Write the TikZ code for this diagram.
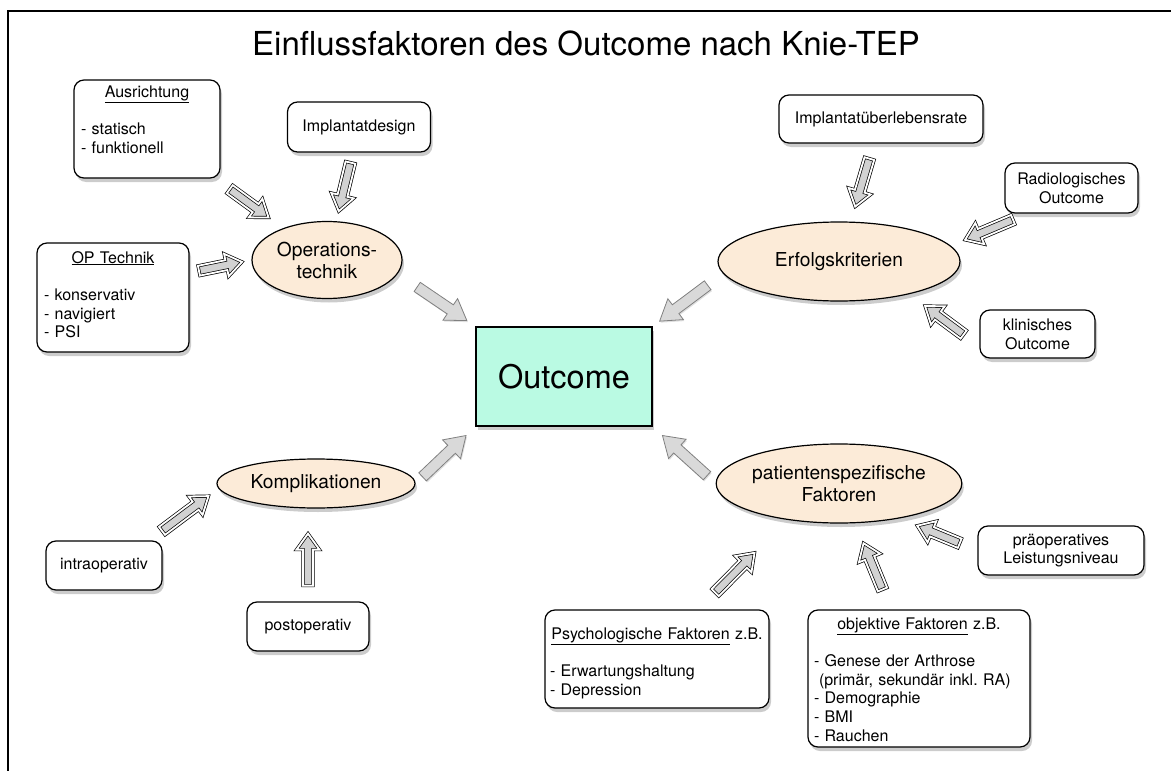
\documentclass[tikz,border=0pt]{standalone}
\usepackage{fontspec}
\setmainfont{TeX Gyre Heros}
\usetikzlibrary{shapes.geometric}
\usetikzlibrary{calc}
\usetikzlibrary{shadows}
\usepackage{xcolor}
\definecolor{pfirsich}{RGB}{252,235,216}
\definecolor{minze}{RGB}{186,250,227}
\frenchspacing

\begin{document}
\begin{tikzpicture}[x=1pt, y=1pt]
        % 定义样式:圆角方框、椭圆、中心方框、两种箭头
        \tikzstyle{bnode}=[rectangle, rounded corners=10pt, draw=black, line width=1.2pt, fill=white, drop shadow={shadow xshift=2pt, shadow yshift=-4pt, opacity=0.4}, font=\fontsize{16}{18.7}\selectfont, align=center, inner xsep=7pt, inner ysep=0pt]
        \tikzstyle{enode}=[ellipse, draw=black, line width=1.2pt, fill=pfirsich, drop shadow={shadow xshift=2pt, shadow yshift=-4pt, opacity=0.4}, font=\fontsize{19.2}{22}\selectfont, align=center, inner sep=0pt]
        \tikzstyle{onode}=[rectangle, draw=black, line width=1.2pt, fill=minze, drop shadow={shadow xshift=2pt, shadow yshift=-4pt, opacity=0.4}, font=\fontsize{32.5}{38}\selectfont, minimum width=176pt, minimum height=99pt]
        \tikzstyle{parrow}=[draw=black, line width=0.7pt, double=white, double distance=1.8pt, fill=gray!35, drop shadow={shadow xshift=1pt, shadow yshift=-1.5pt, opacity=0.25}]
        \tikzstyle{garrow}=[draw=gray, line width=0.8pt, fill=gray!30, drop shadow={shadow xshift=1pt, shadow yshift=-1.5pt, opacity=0.25}]

        \useasboundingbox (0,0) rectangle (1171,-771);
        % 外框 (只有左边和上边)
        \draw[line width=2pt] (8,-771) -- (8,-11) -- (1171,-11);

        % 标题
        \node[font=\fontsize{33}{40}\selectfont, anchor=base] (titel) at (586,-55) {Einflussfaktoren des Outcome nach Knie-TEP};

        % 中心
        \node[onode] (outcome) at (564,-376.5) {Outcome};

        % 四个椭圆
        \node[enode, minimum width=150pt, minimum height=77pt] (optech) at (327,-260) {Operations-\\technik};
        \node[enode, minimum width=242pt, minimum height=79pt] (erfolg) at (839,-261.5) {Erfolgskriterien};
        \node[enode, minimum width=198pt, minimum height=49pt] (kompl) at (316,-483.5) {Komplikationen};
        \node[enode, minimum width=242pt, minimum height=79pt] (patient) at (839,-483.5) {patientenspezifische\\Faktoren};

        % 方框
        \node[bnode, text width=132pt, align=left, text height=17pt, text depth=81pt] (ausr) at (147,-129) {\hfill\underline{Ausrichtung}\hfill\null\\[18.7pt]- statisch\\- funktionell};
        \node[bnode, minimum width=143pt, minimum height=50pt] (impl) at (359,-127) {Implantatdesign};
        \node[bnode, text width=138pt, align=left, text height=20pt, text depth=89pt] (optek) at (113,-297.5) {\hfill\underline{OP Technik}\hfill\null\\[18.7pt]- konservativ\\- navigiert\\- PSI};
        \node[bnode, minimum width=204pt, minimum height=48pt] (ueberl) at (881,-119) {Implantatüberlebensrate};
        \node[bnode, minimum width=133pt, minimum height=50pt] (radio) at (1071.5,-188) {Radiologisches\\Outcome};
        \node[bnode, minimum width=115pt, minimum height=48pt] (klin) at (1037.5,-334) {klinisches\\Outcome};
        \node[bnode, minimum width=116pt, minimum height=49pt] (intra) at (104,-565.5) {intraoperativ};
        \node[bnode, minimum width=122pt, minimum height=49pt] (post) at (308,-626.5) {postoperativ};
        \node[bnode, minimum width=166pt, minimum height=49pt] (praeop) at (1061,-550.5) {präoperatives\\Leistungsniveau};
        \node[bnode, text width=214pt, align=left, inner xsep=5pt, text height=29pt, text depth=69pt] (psych) at (657,-659) {\hfill\underline{Psychologische Faktoren} z.B.\hfill\null\\[18.7pt]- Erwartungshaltung\\- Depression};
        \node[bnode, text width=210pt, align=left, inner xsep=6pt, text height=19pt, text depth=118pt] (objekt) at (919,-678.5) {\hfill\underline{objektive Faktoren} z.B.\hfill\null\\[18.7pt]- Genese der Arthrose\\\hspace*{5pt}(primär, sekundär inkl. RA)\\- Demographie\\- BMI\\- Rauchen};

        % 空心箭头:指向椭圆 (长度 \lang, 位置 \wo)
        \foreach \von/\nach/\lang/\wo in {ausr/optech/48/0.5, impl/optech/50/0.5, optek.18/optech.west/44/0.5,
            ueberl/erfolg/50/0.5, radio.210/erfolg.8/52/0.5, klin.192/erfolg.-25/48/0.5,
            intra.29/kompl.183/58/0.52, post.north/post.north |- kompl.south/52/0.45,
            praeop.west/patient.-30/46/0.5, psych.50/patient.215/56/0.41, objekt/patient/50/0.5} {
            \path (\von) -- coordinate[pos=\wo] (mitte) (\nach);
            \path[parrow] let \p1=(\von), \p2=(\nach), \n1={atan2(\y2-\y1,\x2-\x1)}, \n2={\lang/2} in
                ($(mitte)+(\n1:-\n2)+(\n1+90:5)$) -- ($(mitte)+(\n1:{\n2-16})+(\n1+90:5)$)
                -- ($(mitte)+(\n1:{\n2-16})+(\n1+90:11.5)$) -- ($(mitte)+(\n1:\n2)$)
                -- ($(mitte)+(\n1:{\n2-16})+(\n1-90:11.5)$) -- ($(mitte)+(\n1:{\n2-16})+(\n1-90:5)$)
                -- ($(mitte)+(\n1:-\n2)+(\n1-90:5)$) -- cycle;
        }

        % 灰色箭头:指向中心
        \foreach \von/\nach/\wo in {optech.-11/outcome.north west/0.57, erfolg.186/outcome.north east/0.56,
            kompl.east/outcome.south west/0.48, patient.west/outcome.south east/0.49} {
            \path (\von) -- coordinate[pos=\wo] (mitte) (\nach);
            \path[garrow] let \p1=(\von), \p2=(\nach), \n1={atan2(\y2-\y1,\x2-\x1)} in
                ($(mitte)+(\n1:-30)+(\n1+90:5.5)$) -- ($(mitte)+(\n1:10)+(\n1+90:5.5)$)
                -- ($(mitte)+(\n1:10)+(\n1+90:13)$) -- ($(mitte)+(\n1:30)$)
                -- ($(mitte)+(\n1:10)+(\n1-90:13)$) -- ($(mitte)+(\n1:10)+(\n1-90:5.5)$)
                -- ($(mitte)+(\n1:-30)+(\n1-90:5.5)$) -- cycle;
        }
    \end{tikzpicture}
\end{document}
